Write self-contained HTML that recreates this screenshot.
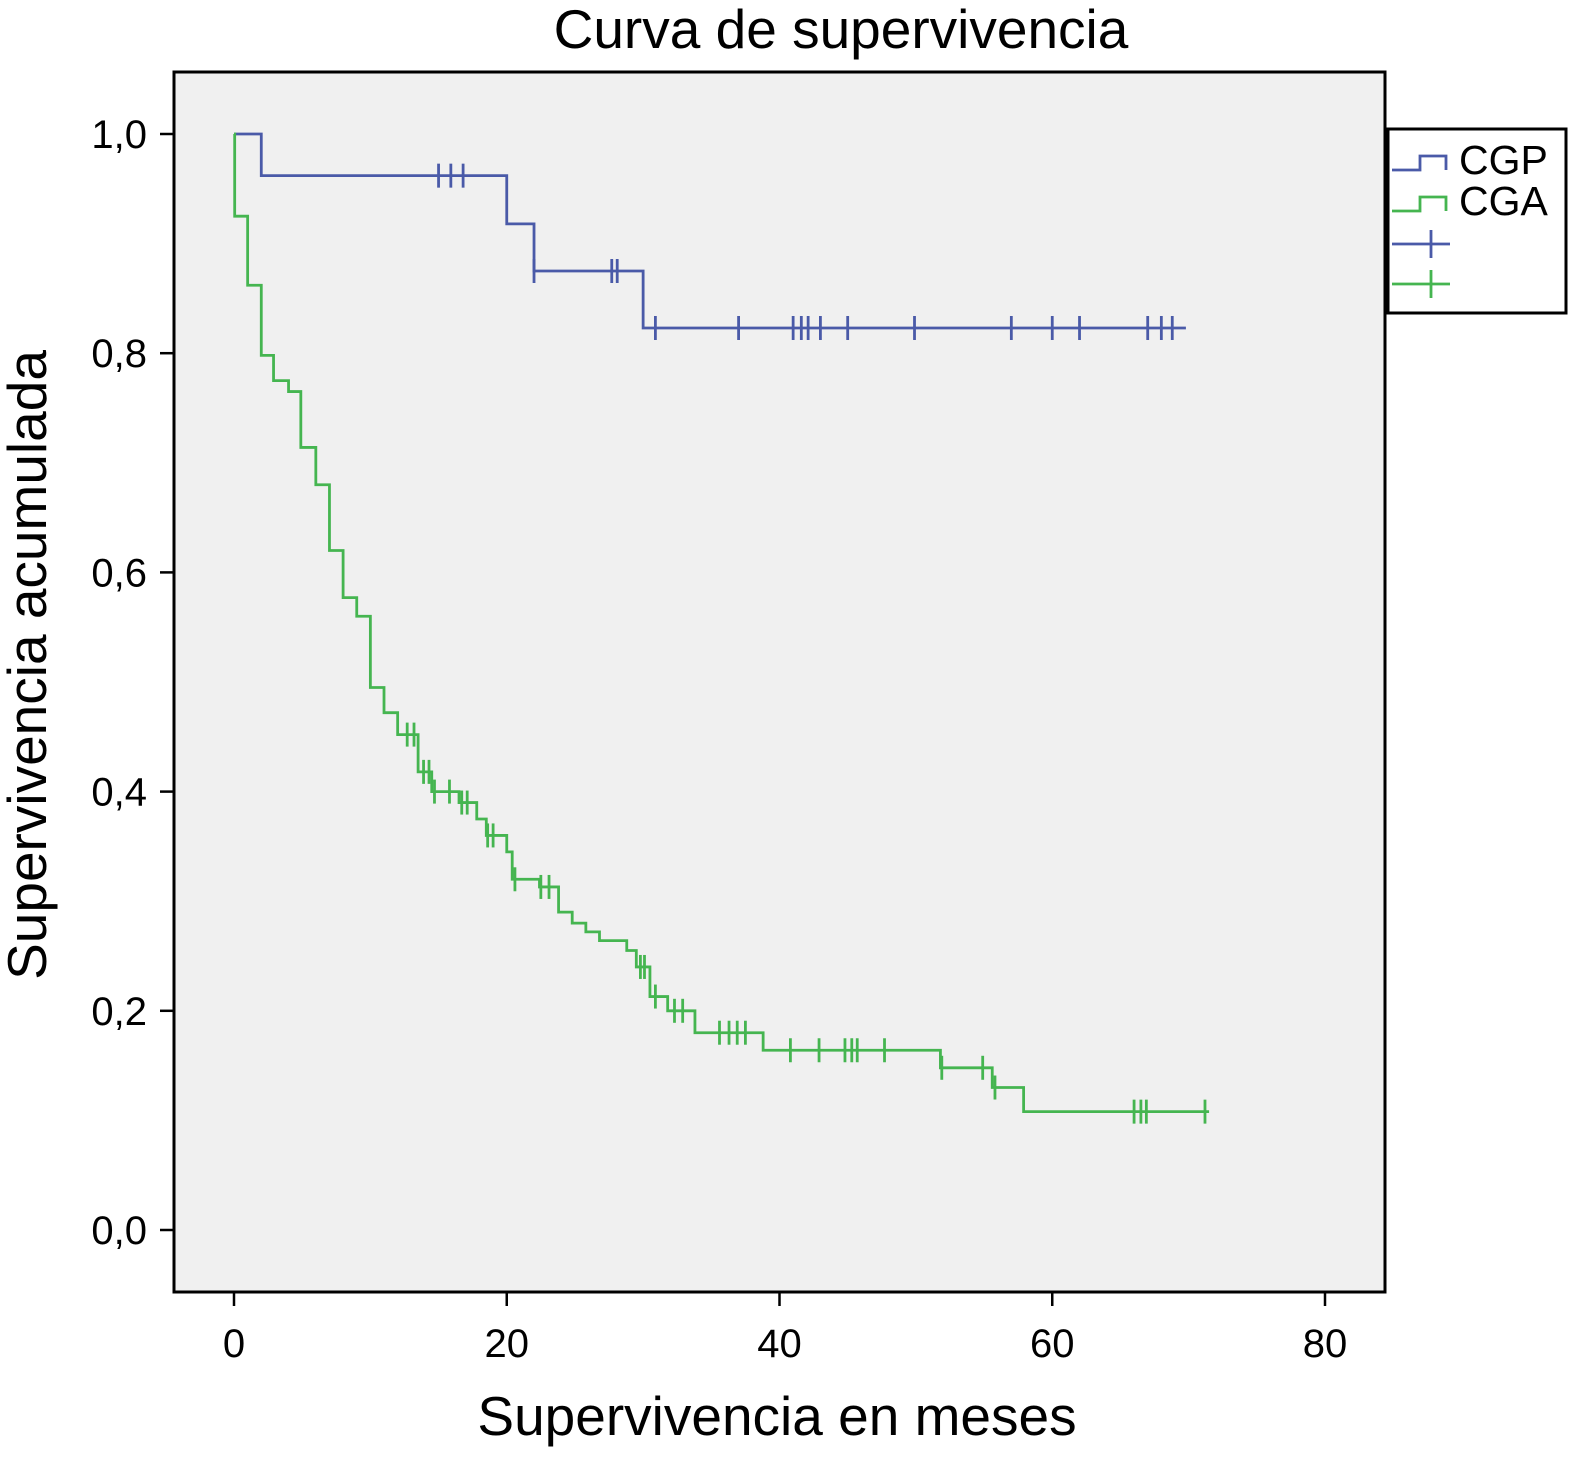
<!DOCTYPE html>
<html><head><meta charset="utf-8"><style>
body{margin:0;background:#fff;}
svg text{font-family:"Liberation Sans",Arial,sans-serif;fill:#000;}
</style></head><body>
<svg id="chart" width="1581" height="1456" viewBox="0 0 1581 1456" xmlns="http://www.w3.org/2000/svg">
<rect x="174" y="72" width="1211" height="1220" fill="#f0f0f0" stroke="#000" stroke-width="3"/>
<text x="841" y="48" font-size="55" text-anchor="middle">Curva de supervivencia</text>
<text x="777" y="1435" font-size="55" text-anchor="middle">Supervivencia en meses</text>
<text transform="translate(46,665) rotate(-90)" font-size="55" text-anchor="middle">Supervivencia acumulada</text>
<g id="axes"></g>
<g id="series"></g>
<g>
<rect x="1388" y="129" width="178" height="184" fill="#fff" stroke="#000" stroke-width="3"/>
<path d="M1392,170 H1420 V156 H1446 V170" fill="none" stroke="#4a5aa8" stroke-width="2.8"/>
<text x="1459" y="174" font-size="41">CGP</text>
<path d="M1392,211 H1420 V197 H1446 V211" fill="none" stroke="#45b550" stroke-width="2.8"/>
<text x="1459" y="215" font-size="41">CGA</text>
<path d="M1392,244 H1450 M1431,230 V258" stroke="#4a5aa8" stroke-width="2.8"/>
<path d="M1392,284 H1450 M1431,270 V298" stroke="#45b550" stroke-width="2.8"/>
</g>
</svg>
<script>
const xTicks=[0,20,40,60,80];
const yTicks=[0,0.2,0.4,0.6,0.8,1.0];
const yTickLabels=["0,0","0,2","0,4","0,6","0,8","1,0"];
const cgpTimes=[0,2,20,22,30];
const cgpSurv=[1.0,0.962,0.918,0.875,0.823];
const cgpEnd=69.8;
const cgpCensor=[15,15.9,16.8,22,27.7,28.1,30.9,37,41,41.6,42.1,43,45,49.9,57,60,62,67,68,68.8];
const cgaTimes=[0,0.05,1,2,2.9,4,4.9,6,7,8,9,10,11,12,13.5,14.5,16.5,17.8,18.5,20,20.4,22.4,23.8,24.8,25.8,26.8,28.8,29.5,30.5,31.8,33.8,38.8,51.8,55.6,57.9];
const cgaSurv=[1.0,0.925,0.862,0.798,0.775,0.765,0.714,0.68,0.62,0.577,0.56,0.495,0.472,0.452,0.418,0.40,0.39,0.375,0.36,0.345,0.32,0.313,0.29,0.28,0.272,0.264,0.255,0.24,0.213,0.2,0.18,0.164,0.148,0.13,0.108];
const cgaEnd=71.5;
const cgaCensor=[12.7,13.2,13.9,14.3,14.7,15.8,16.7,17.1,18.6,19,20.6,22.5,23.1,29.8,30.1,30.9,32.3,32.9,35.6,36.3,36.9,37.5,40.8,42.9,44.8,45.3,45.7,47.7,51.9,54.9,55.8,66,66.5,66.9,71.2];
const X=t=>234+t*(1325-234)/80;
const Y=s=>1230-s*1096;
const NS="http://www.w3.org/2000/svg";
const axes=document.getElementById('axes'), series=document.getElementById('series');
function mk(tag,attrs,parent){const e=document.createElementNS(NS,tag);for(const k in attrs)e.setAttribute(k,attrs[k]);parent.appendChild(e);return e;}
xTicks.forEach(v=>{
 const l=mk('line',{x1:X(v),x2:X(v),y1:1292,y2:1306,stroke:'#000','stroke-width':2.5},axes);
 
 
 const t=mk('text',{x:X(v),y:1357,'font-size':40,'text-anchor':'middle'},axes);t.textContent=v;
 
 
});
yTicks.forEach((v,i)=>{
 const l=mk('line',{x1:160,x2:174,y1:Y(v),y2:Y(v),stroke:'#000','stroke-width':2.5},axes);
 
 
 const t=mk('text',{x:147,y:Y(v)+14,'font-size':40,'text-anchor':'end'},axes);t.textContent=yTickLabels[i];
 
 
});
function survAt(times,surv,t){let s=surv[0];for(let i=0;i<times.length;i++){if(times[i]<=t)s=surv[i];}return s;}
function draw(times,surv,end,cens,color,name){
 let d='M'+X(times[0])+','+Y(surv[0]);
 for(let i=1;i<times.length;i++){d+=' H'+X(times[i])+' V'+Y(surv[i]);}
 d+=' H'+X(end);
 const p=mk('path',{d:d,fill:'none',stroke:color,'stroke-width':2.8},series);
 
 
 cens.forEach(c=>{
  const y=Y(survAt(times,surv,c));
  const m=mk('line',{x1:X(c),x2:X(c),y1:y-12,y2:y+12,stroke:color,'stroke-width':2.8},series);
  
  
 });
}
draw(cgpTimes,cgpSurv,cgpEnd,cgpCensor,'#4a5aa8','cgp');
draw(cgaTimes,cgaSurv,cgaEnd,cgaCensor,'#45b550','cga');
</script>
</body></html>
